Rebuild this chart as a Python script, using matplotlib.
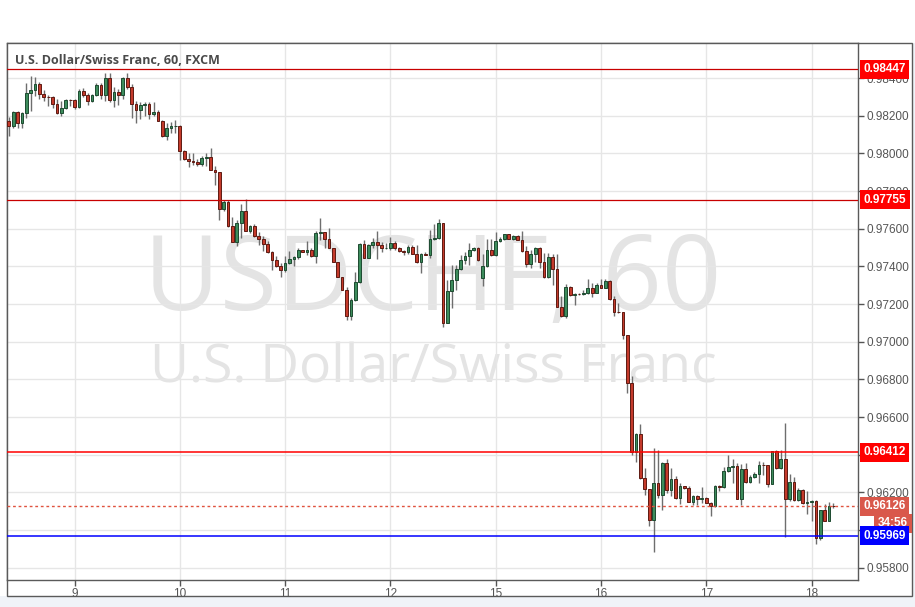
import numpy as np
import matplotlib
matplotlib.use('Agg')
import matplotlib.pyplot as plt
import matplotlib.transforms as mtransforms
from matplotlib.patches import Rectangle

plt.rcParams['font.family'] = ['Liberation Sans', 'DejaVu Sans']

# USD/CHF hourly candles, 8th 09:00 to 18th 04:00
day_labels = ['9', '10', '11', '12', '15', '16', '17', '18']
day_starts = [15, 39, 63, 87, 111, 135, 159, 183]
price_ticks = [0.958, 0.960, 0.962, 0.964, 0.966, 0.968, 0.970, 0.972,
               0.974, 0.976, 0.978, 0.980, 0.982, 0.984]

opens = [
    0.98172, 0.98143, 0.98219, 0.98159, 0.98212, 0.98320, 0.98336, 0.98368, 0.98313, 0.98299,
    0.98297, 0.98262, 0.98212, 0.98241, 0.98283, 0.98282, 0.98244, 0.98331, 0.98310, 0.98278,
    0.98310, 0.98363, 0.98310, 0.98400, 0.98283, 0.98326, 0.98310, 0.98400, 0.98352, 0.98262,
    0.98230, 0.98257, 0.98262, 0.98209, 0.98218, 0.98172, 0.98090, 0.98135, 0.98145, 0.98145,
    0.98015, 0.97972, 0.97958, 0.97952, 0.97942, 0.97975, 0.97980, 0.97910, 0.97899, 0.97704,
    0.97743, 0.97612, 0.97527, 0.97632, 0.97696, 0.97588, 0.97614, 0.97559, 0.97543, 0.97519,
    0.97474, 0.97432, 0.97400, 0.97379, 0.97418, 0.97441, 0.97448, 0.97488, 0.97476, 0.97488,
    0.97453, 0.97577, 0.97584, 0.97545, 0.97497, 0.97425, 0.97343, 0.97273, 0.97134, 0.97223,
    0.97316, 0.97518, 0.97447, 0.97512, 0.97532, 0.97516, 0.97495, 0.97497, 0.97526, 0.97495,
    0.97482, 0.97474, 0.97504, 0.97468, 0.97425, 0.97468, 0.97463, 0.97547, 0.97549, 0.97632,
    0.97100, 0.97270, 0.97328, 0.97386, 0.97433, 0.97454, 0.97489, 0.97498, 0.97337, 0.97402,
    0.97489, 0.97458, 0.97533, 0.97547, 0.97570, 0.97547, 0.97560, 0.97542, 0.97483, 0.97411,
    0.97464, 0.97496, 0.97422, 0.97342, 0.97448, 0.97384, 0.97187, 0.97134, 0.97289, 0.97248,
    0.97254, 0.97252, 0.97257, 0.97284, 0.97261, 0.97301, 0.97287, 0.97323, 0.97225, 0.97160,
    0.97158, 0.97036, 0.96780, 0.96413, 0.96512, 0.96277, 0.96218, 0.96056, 0.96250, 0.96186,
    0.96356, 0.96211, 0.96271, 0.96170, 0.96232, 0.96222, 0.96150, 0.96181, 0.96163, 0.96168,
    0.96145, 0.96127, 0.96234, 0.96227, 0.96313, 0.96333, 0.96340, 0.96166, 0.96322, 0.96257,
    0.96280, 0.96297, 0.96345, 0.96343, 0.96244, 0.96419, 0.96327, 0.96375, 0.96163, 0.96257,
    0.96159, 0.96212, 0.96142, 0.96150, 0.96157, 0.95956, 0.96104, 0.96050, 0.96128,
]
highs = [
    0.98195, 0.98224, 0.98224, 0.98219, 0.98375, 0.98411, 0.98404, 0.98379, 0.98336, 0.98312,
    0.98304, 0.98287, 0.98278, 0.98287, 0.98290, 0.98290, 0.98340, 0.98347, 0.98322, 0.98313,
    0.98372, 0.98372, 0.98427, 0.98427, 0.98354, 0.98340, 0.98404, 0.98427, 0.98368, 0.98278,
    0.98273, 0.98273, 0.98273, 0.98273, 0.98228, 0.98177, 0.98163, 0.98166, 0.98177, 0.98149,
    0.98019, 0.98002, 0.98002, 0.97970, 0.97984, 0.98002, 0.98028, 0.97935, 0.97901, 0.97754,
    0.97754, 0.97662, 0.97648, 0.97733, 0.97758, 0.97621, 0.97627, 0.97580, 0.97559, 0.97533,
    0.97480, 0.97453, 0.97418, 0.97453, 0.97481, 0.97457, 0.97497, 0.97488, 0.97536, 0.97497,
    0.97586, 0.97658, 0.97584, 0.97605, 0.97497, 0.97425, 0.97343, 0.97290, 0.97230, 0.97372,
    0.97525, 0.97542, 0.97521, 0.97553, 0.97586, 0.97530, 0.97525, 0.97556, 0.97535, 0.97504,
    0.97489, 0.97511, 0.97512, 0.97512, 0.97472, 0.97477, 0.97591, 0.97626, 0.97649, 0.97632,
    0.97328, 0.97407, 0.97407, 0.97460, 0.97477, 0.97525, 0.97504, 0.97504, 0.97468, 0.97547,
    0.97547, 0.97582, 0.97556, 0.97574, 0.97574, 0.97568, 0.97568, 0.97586, 0.97508, 0.97487,
    0.97501, 0.97501, 0.97473, 0.97473, 0.97466, 0.97466, 0.97243, 0.97305, 0.97296, 0.97261,
    0.97261, 0.97275, 0.97331, 0.97310, 0.97314, 0.97331, 0.97331, 0.97328, 0.97243, 0.97204,
    0.97160, 0.97036, 0.96819, 0.96515, 0.96565, 0.96330, 0.96218, 0.96436, 0.96427, 0.96360,
    0.96377, 0.96330, 0.96285, 0.96250, 0.96236, 0.96232, 0.96188, 0.96186, 0.96230, 0.96177,
    0.96150, 0.96239, 0.96239, 0.96336, 0.96398, 0.96375, 0.96354, 0.96350, 0.96354, 0.96292,
    0.96310, 0.96368, 0.96363, 0.96345, 0.96419, 0.96425, 0.96425, 0.96570, 0.96297, 0.96283,
    0.96221, 0.96216, 0.96209, 0.96159, 0.96159, 0.96104, 0.96140, 0.96150, 0.96142,
]
lows = [
    0.98092, 0.98133, 0.98133, 0.98133, 0.98189, 0.98225, 0.98304, 0.98287, 0.98278, 0.98251,
    0.98243, 0.98210, 0.98198, 0.98234, 0.98251, 0.98234, 0.98239, 0.98301, 0.98255, 0.98274,
    0.98304, 0.98287, 0.98278, 0.98273, 0.98246, 0.98255, 0.98287, 0.98340, 0.98186, 0.98163,
    0.98181, 0.98198, 0.98181, 0.98198, 0.98170, 0.98088, 0.98071, 0.98110, 0.98110, 0.97966,
    0.97966, 0.97927, 0.97940, 0.97935, 0.97931, 0.97931, 0.97910, 0.97834, 0.97644, 0.97692,
    0.97609, 0.97527, 0.97510, 0.97549, 0.97588, 0.97577, 0.97554, 0.97515, 0.97480, 0.97471,
    0.97379, 0.97396, 0.97343, 0.97368, 0.97414, 0.97404, 0.97439, 0.97474, 0.97462, 0.97450,
    0.97418, 0.97542, 0.97497, 0.97497, 0.97421, 0.97343, 0.97273, 0.97117, 0.97117, 0.97218,
    0.97311, 0.97442, 0.97442, 0.97495, 0.97437, 0.97477, 0.97491, 0.97489, 0.97489, 0.97477,
    0.97460, 0.97468, 0.97465, 0.97416, 0.97367, 0.97460, 0.97442, 0.97539, 0.97544, 0.97079,
    0.97097, 0.97179, 0.97275, 0.97381, 0.97414, 0.97407, 0.97482, 0.97430, 0.97297, 0.97398,
    0.97454, 0.97454, 0.97530, 0.97542, 0.97544, 0.97542, 0.97539, 0.97477, 0.97399, 0.97393,
    0.97425, 0.97390, 0.97338, 0.97338, 0.97301, 0.97183, 0.97130, 0.97125, 0.97243, 0.97195,
    0.97250, 0.97250, 0.97254, 0.97240, 0.97257, 0.97284, 0.97284, 0.97222, 0.97134, 0.97155,
    0.97013, 0.96727, 0.96400, 0.96360, 0.96271, 0.96186, 0.96020, 0.95882, 0.96170, 0.96109,
    0.96197, 0.96183, 0.96165, 0.96141, 0.96218, 0.96148, 0.96133, 0.96133, 0.96145, 0.96142,
    0.96074, 0.96124, 0.96209, 0.96221, 0.96310, 0.96248, 0.96163, 0.96133, 0.96251, 0.96248,
    0.96274, 0.96251, 0.96292, 0.96227, 0.96244, 0.96322, 0.96322, 0.95965, 0.96154, 0.96156,
    0.96154, 0.96138, 0.96088, 0.96050, 0.95924, 0.95950, 0.96050, 0.96050, 0.96118,
]
closes = [
    0.98143, 0.98219, 0.98159, 0.98212, 0.98320, 0.98336, 0.98368, 0.98313, 0.98299, 0.98297,
    0.98262, 0.98212, 0.98241, 0.98283, 0.98282, 0.98244, 0.98331, 0.98310, 0.98278, 0.98310,
    0.98363, 0.98310, 0.98400, 0.98283, 0.98326, 0.98310, 0.98400, 0.98352, 0.98262, 0.98230,
    0.98257, 0.98262, 0.98209, 0.98218, 0.98172, 0.98090, 0.98135, 0.98145, 0.98145, 0.98015,
    0.97972, 0.97958, 0.97952, 0.97942, 0.97975, 0.97980, 0.97910, 0.97899, 0.97704, 0.97743,
    0.97612, 0.97527, 0.97632, 0.97696, 0.97588, 0.97614, 0.97559, 0.97543, 0.97519, 0.97474,
    0.97432, 0.97400, 0.97379, 0.97418, 0.97441, 0.97448, 0.97488, 0.97476, 0.97488, 0.97453,
    0.97577, 0.97584, 0.97545, 0.97497, 0.97425, 0.97343, 0.97273, 0.97134, 0.97223, 0.97316,
    0.97518, 0.97447, 0.97512, 0.97532, 0.97516, 0.97495, 0.97497, 0.97526, 0.97495, 0.97482,
    0.97474, 0.97504, 0.97468, 0.97425, 0.97468, 0.97463, 0.97547, 0.97549, 0.97632, 0.97100,
    0.97270, 0.97328, 0.97386, 0.97433, 0.97454, 0.97489, 0.97498, 0.97433, 0.97402, 0.97489,
    0.97458, 0.97533, 0.97547, 0.97570, 0.97547, 0.97560, 0.97542, 0.97483, 0.97411, 0.97464,
    0.97496, 0.97422, 0.97342, 0.97448, 0.97384, 0.97187, 0.97134, 0.97289, 0.97248, 0.97254,
    0.97252, 0.97257, 0.97284, 0.97261, 0.97301, 0.97287, 0.97323, 0.97225, 0.97160, 0.97158,
    0.97036, 0.96780, 0.96413, 0.96512, 0.96277, 0.96218, 0.96056, 0.96250, 0.96186, 0.96356,
    0.96211, 0.96271, 0.96170, 0.96232, 0.96222, 0.96150, 0.96181, 0.96163, 0.96168, 0.96145,
    0.96127, 0.96234, 0.96227, 0.96313, 0.96333, 0.96340, 0.96166, 0.96322, 0.96257, 0.96280,
    0.96297, 0.96345, 0.96343, 0.96244, 0.96419, 0.96327, 0.96375, 0.96163, 0.96257, 0.96159,
    0.96212, 0.96142, 0.96150, 0.96157, 0.95956, 0.96104, 0.96050, 0.96128, 0.96126,
]

upper_levels = [0.98447, 0.97755]
resistance = 0.96412
support = 0.95969
last_price = 0.96126
countdown = '34:56'

W, H = 915, 607
fig = plt.figure(figsize=(W / 100, H / 100), dpi=100, facecolor='white')
# light strip outside the chart frame, then the white frame itself
fig.add_artist(Rectangle((0, 0), 1, 1 - 596 / H, transform=fig.transFigure,
                         fc='#f0f3f8', ec='none', zorder=-3))
fig.add_artist(Rectangle((912 / W, 0), 1 - 912 / W, 1 - 43 / H, transform=fig.transFigure,
                         fc='#f0f3f8', ec='none', zorder=-3))
fig.add_artist(Rectangle((7 / W, 1 - 596 / H), (912 - 7) / W, (596 - 43) / H,
                         transform=fig.transFigure, fc='white', ec='#5a5a5a', lw=1, zorder=-2))

ax = fig.add_axes([7 / W, 1 - 580 / H, (858 - 7) / W, (580 - 43) / H])
ax.set_facecolor('white')

o = np.array(opens)
h = np.array(highs)
l = np.array(lows)
c = np.array(closes)
x = np.arange(len(c))
up = c >= o
body_col = np.where(up, '#3d8c5c', '#c43a2b')
edge_col = np.where(up, '#1d4a30', '#5e1a12')

ax.vlines(x, l, h, color='#6e6e6e', lw=1, zorder=3)
ax.bar(x, np.maximum(np.abs(c - o), 0.000025), bottom=np.minimum(o, c), width=0.62,
       color=body_col, edgecolor=edge_col, linewidth=0.7, zorder=4)

ax.set_xlim(-0.4, 193.6)
ax.set_ylim(0.95735, 0.98586)

# watermark
ax.text(0.5006, 0.553, 'USDCHF, 60', transform=ax.transAxes, ha='center', va='center',
        fontsize=75, color='#e4e4e4', zorder=0.5, family=['Open Sans', 'DejaVu Sans'])
ax.text(0.5006, 0.393, 'U.S. Dollar/Swiss Franc', transform=ax.transAxes, ha='center',
        va='center', fontsize=38.5, color='#e4e4e4', zorder=0.5, family=['Open Sans', 'DejaVu Sans'])

ax.set_yticks(price_ticks)
ax.set_yticklabels(['%.5f' % p for p in price_ticks])
ax.yaxis.tick_right()
ax.set_xticks(day_starts)
ax.set_xticklabels(day_labels)
ax.tick_params(axis='both', colors='#555555', labelsize=8.5, length=4, width=1, direction='out')
ax.tick_params(axis='y', pad=2)
ax.tick_params(axis='x', pad=2)
ax.grid(True, color='#e6e6e6', lw=1, zorder=1)
ax.set_axisbelow(True)
for s in ax.spines.values():
    s.set_color('#5a5a5a')
    s.set_linewidth(1)

# level lines
for lv in upper_levels:
    ax.axhline(lv, color='#c80000', lw=0.9, zorder=5)
ax.axhline(resistance, color='#ff0000', lw=1.1, zorder=5)
ax.axhline(support, color='#0000ff', lw=1.1, zorder=5)
ax.axhline(last_price, color='#e0533f', lw=1, ls=(0, (2, 2)), zorder=5)

trans = mtransforms.blended_transform_factory(ax.transAxes, ax.transData)


def price_tag(price, text, fc, xpos=1.0065):
    ax.text(xpos, price, text, transform=trans, ha='left', va='center', color='white',
            fontsize=8.5, fontweight='bold', clip_on=False, zorder=8,
            bbox=dict(boxstyle='square,pad=0.3', fc=fc, ec='none'))


price_tag(upper_levels[0], '%.5f' % upper_levels[0], '#ff0000')
price_tag(upper_levels[1], '%.5f' % upper_levels[1], '#ff0000')
price_tag(resistance, '%.5f' % resistance, '#ff0000')
price_tag(last_price, '%.5f' % last_price, '#d9584b')
price_tag(0.96037, countdown, '#d9584b', xpos=1.0235)
price_tag(support, '%.5f' % support, '#0000ff')

fig.text(15 / W, 1 - 60 / H, 'U.S. Dollar/Swiss Franc, 60, FXCM', fontsize=9,
         fontweight='bold', color='#4a4a4a', va='center', ha='left',
         family=['Open Sans', 'DejaVu Sans'])

fig.savefig('out.png', dpi=100, facecolor=fig.get_facecolor())
